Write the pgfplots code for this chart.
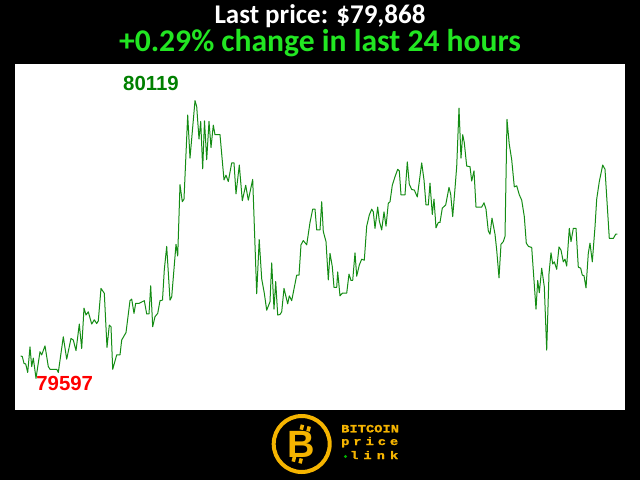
\documentclass[border=0pt]{standalone}
\usepackage{fontspec}
\setmainfont{Carlito}
\newfontfamily\labelfont{Liberation Sans}
\newfontfamily\logofont[FakeStretch=1.25, FakeBold=1.2]{Liberation Mono}
\usepackage{pgfplots}
\pgfplotsset{compat=1.18}
\usepackage{pgfplotstable}

\definecolor{linegreen}{RGB}{20,140,20}
\definecolor{maxgreen}{RGB}{0,128,0}
\definecolor{titlegreen}{RGB}{34,230,34}
\definecolor{gold}{RGB}{245,180,0}

% price over the last 24 hours (x = sample position)
\pgfplotstableread{
t price
20.7 79639
22.3 79638
24.0 79625
25.7 79624
27.7 79608
30.0 79656
31.7 79619
33.3 79635
36.0 79597
40.0 79647
41.7 79641
45.0 79658
48.3 79619
50.0 79614
56.7 79614
58.3 79608
63.3 79675
66.7 79633
71.0 79672
73.3 79669
76.0 79649
79.3 79699
81.7 79653
84.0 79729
86.0 79716
88.3 79722
91.7 79699
94.3 79707
96.7 79700
98.3 79705
101.0 79766
104.3 79757
107.0 79655
109.3 79697
111.0 79694
112.7 79614
116.7 79641
120.0 79641
121.7 79669
126.0 79683
130.0 79743
131.7 79746
134.0 79719
135.7 79738
139.0 79738
144.3 79743
146.7 79718
149.0 79718
150.7 79771
152.7 79694
155.0 79713
157.7 79719
160.0 79743
162.5 79744
164.3 79801
166.7 79845
170.0 79744
171.7 79750
176.0 79849
177.7 79827
180.0 79961
182.3 79929
184.0 79934
187.7 80092
190.0 80011
195.0 80119
196.7 80108
199.0 80047
200.7 80080
202.7 79991
204.5 80081
206.7 80008
209.0 80080
211.0 80031
213.3 80073
215.0 80055
220.0 80055
224.0 79970
226.0 79979
228.3 79967
231.7 80002
234.0 80002
236.0 79944
239.3 79998
242.3 79931
245.7 79960
248.3 79932
252.7 79971
256.7 79756
259.2 79858
261.7 79784
264.3 79757
266.7 79725
270.0 79741
271.7 79814
274.0 79727
275.7 79779
277.7 79716
280.0 79717
281.7 79722
284.0 79766
287.7 79737
289.3 79752
291.7 79743
296.7 79791
299.0 79791
301.0 79848
303.3 79856
306.7 79848
310.0 79890
312.7 79915
315.0 79915
316.7 79876
320.0 79876
321.7 79929
323.3 79873
326.0 79854
328.3 79782
330.0 79832
332.3 79807
334.0 79768
336.7 79768
337.7 79797
340.0 79752
342.3 79757
346.7 79757
349.0 79793
351.0 79781
352.7 79781
355.0 79833
356.7 79789
359.3 79810
361.7 79821
364.3 79819
366.7 79883
369.3 79904
371.7 79915
373.3 79910
375.0 79879
377.7 79919
379.3 79893
381.7 79876
384.0 79910
386.0 79883
388.3 79926
390.0 79929
392.3 79960
395.0 79976
397.7 79990
399.3 79987
401.0 79942
405.0 79942
407.3 80004
409.3 79962
411.7 79952
414.3 79951
417.3 79938
421.7 80002
424.0 79970
426.0 79923
428.3 79923
430.0 79964
432.3 79905
434.0 79934
436.0 79880
438.3 79890
440.0 79890
442.3 79917
445.7 79923
449.0 79956
450.7 79943
452.7 79901
455.0 79954
456.7 79995
459.0 80105
461.0 80011
462.7 80055
464.3 80040
466.7 79996
470.0 79995
471.7 79968
474.0 79987
476.0 79919
481.7 79919
484.0 79927
486.0 79915
488.3 79874
490.0 79868
492.0 79898
495.0 79868
496.7 79838
499.0 79786
501.0 79849
503.3 79854
505.0 79864
507.0 80084
509.2 80038
511.7 80008
514.3 79957
516.7 79959
519.3 79942
521.7 79932
524.3 79901
526.3 79851
528.5 79845
531.7 79843
536.0 79727
537.7 79781
539.3 79758
541.7 79804
544.3 79769
546.7 79650
549.0 79794
551.0 79833
552.7 79812
554.3 79816
556.7 79802
559.0 79844
561.0 79838
563.3 79816
565.0 79821
566.7 79808
569.3 79879
571.0 79854
573.3 79879
576.0 79879
578.3 79806
580.7 79804
582.3 79791
584.0 79790
586.0 79767
588.3 79832
590.0 79851
592.3 79816
595.0 79882
596.7 79934
599.3 79967
602.7 79998
605.0 79990
609.3 79860
613.3 79860
615.7 79868
617.3 79868
}\pricedata

\begin{document}
\begin{tikzpicture}[x=1pt,y=1pt]
\fill[black] (0,0) rectangle (640,480);
\node[anchor=base, text=white, inner sep=0pt, text depth=2pt,
  font=\fontsize{27}{30}\selectfont\bfseries] at (320,456) {Last price: \$79,868};
\node[anchor=base, text=titlegreen, inner sep=0pt, text height=20pt,
  font=\fontsize{31.6}{34}\selectfont\bfseries] at (320,428) {+0.29\% change in last 24 hours};
\begin{axis}[
    at={(15pt,70pt)}, anchor=south west,
    width=610pt, height=346pt, scale only axis,
    xmin=15, xmax=625, ymin=79537.4, ymax=80188,
    axis line style={draw=none}, ticks=none,
    axis background/.style={fill=white},
  ]
  \addplot[linegreen, line width=1pt, line join=round] table[x=t, y=price] {\pricedata};
  \node[inner sep=0pt, text=maxgreen, font=\labelfont\bfseries\fontsize{20.4}{22}\selectfont]
    at (axis cs:151,80151.7) {80119};
  \node[inner sep=0pt, text=red, font=\labelfont\bfseries\fontsize{20.4}{22}\selectfont]
    at (axis cs:64.7,79586.8) {79597};
\end{axis}
% logo
\draw[gold, line width=4pt] (301.7,36) circle (28);
\begin{scope}[shift={(301,36)}, rotate=-14]
  \fill[gold] (-5,14) rectangle (-1.5,19);
  \fill[gold] (2,14) rectangle (5.5,19);
  \fill[gold] (-5,-19) rectangle (-1.5,-14);
  \fill[gold] (2,-19) rectangle (5.5,-14);
  \node[text=gold, inner sep=0pt, font=\labelfont\bfseries\fontsize{38}{38}\selectfont] at (0,0) {B};
\end{scope}
\node[anchor=base west, inner sep=0pt, text=gold, font=\logofont\bfseries\fontsize{11}{11}\selectfont]
  at (341,47.7) {\makebox[57pt][s]{B\hfill I\hfill T\hfill C\hfill O\hfill I\hfill N}};
\node[anchor=base west, inner sep=0pt, text=gold, font=\logofont\bfseries\fontsize{11}{11}\selectfont]
  at (341,35) {\makebox[57pt][s]{p\hfill r\hfill i\hfill c\hfill e}};
\node[anchor=base west, inner sep=0pt, text=gold, font=\logofont\bfseries\fontsize{11}{11}\selectfont]
  at (350,21) {\makebox[48pt][s]{l\hfill i\hfill n\hfill k}};
\fill[green!70!black] (345.5,23.5) circle (1.6);
\end{tikzpicture}
\end{document}
